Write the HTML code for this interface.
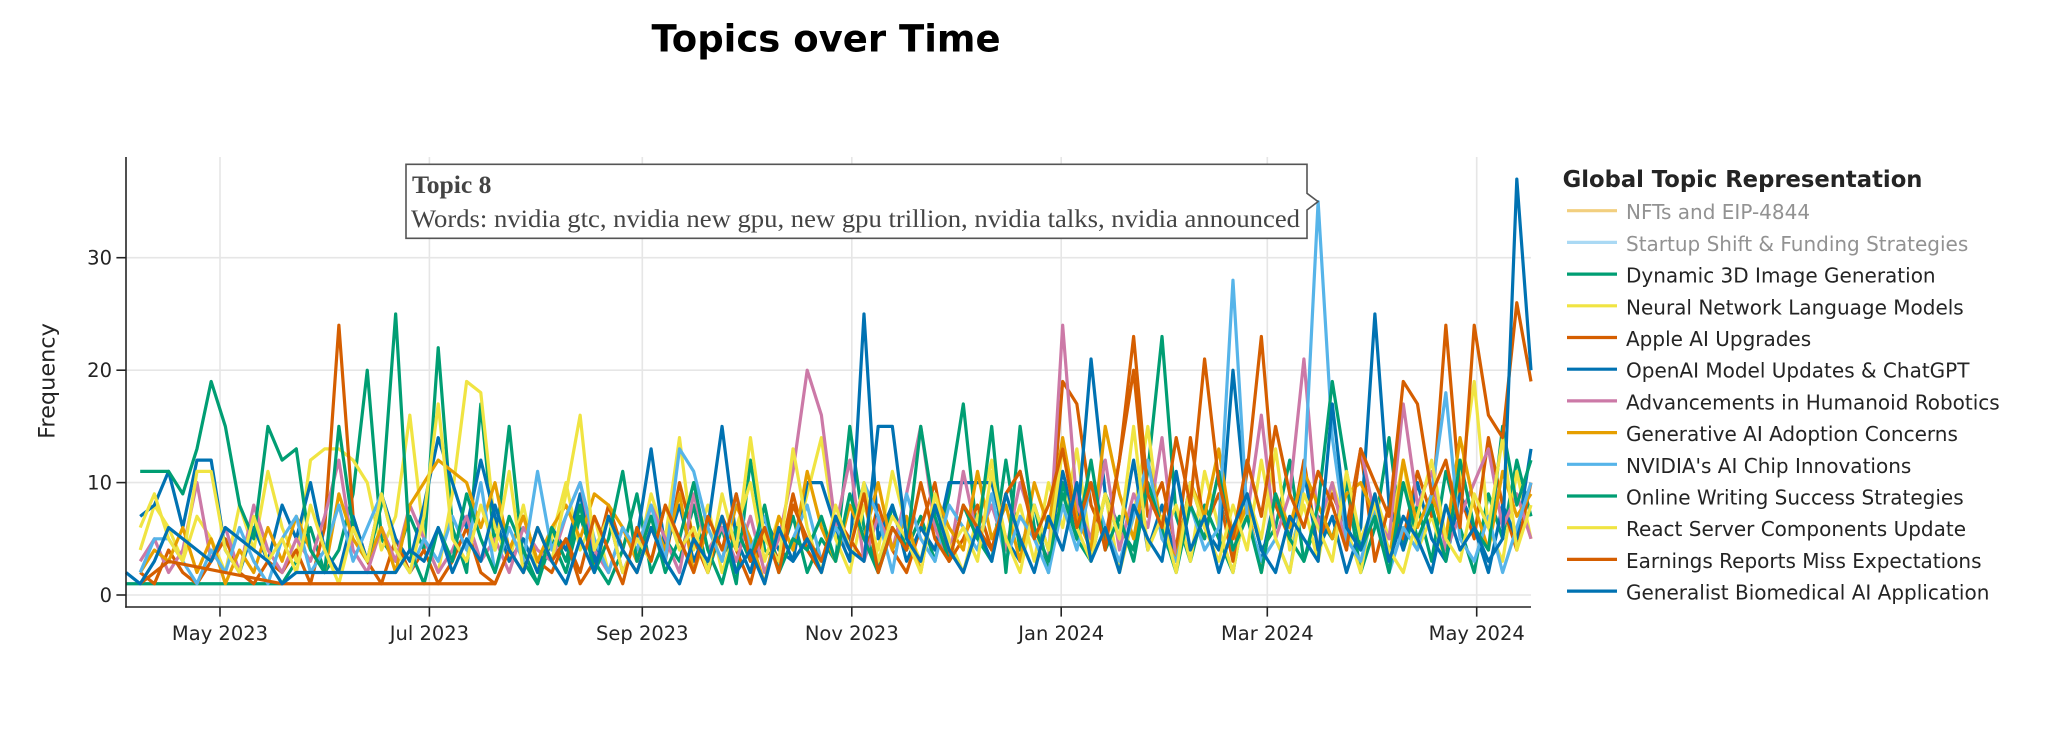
<!DOCTYPE html>
<html><head><meta charset="utf-8">
<style>
html,body{margin:0;padding:0;background:#fff;}
svg{display:block;}
</style></head>
<body>
<svg id="c" width="2045" height="732" viewBox="0 0 2045 732" xmlns="http://www.w3.org/2000/svg" font-family="'DejaVu Sans', Verdana, sans-serif">
<rect width="2045" height="732" fill="#fff"/>
<g stroke="#e6e6e6" stroke-width="1.6">
<line x1="220" y1="157" x2="220" y2="607"/>
<line x1="429.4" y1="157" x2="429.4" y2="607"/>
<line x1="642.3" y1="157" x2="642.3" y2="607"/>
<line x1="851.8" y1="157" x2="851.8" y2="607"/>
<line x1="1061.2" y1="157" x2="1061.2" y2="607"/>
<line x1="1267.3" y1="157" x2="1267.3" y2="607"/>
<line x1="1476.7" y1="157" x2="1476.7" y2="607"/>
<line x1="126" y1="595" x2="1531" y2="595"/>
<line x1="126" y1="482.6" x2="1531" y2="482.6"/>
<line x1="126" y1="370.2" x2="1531" y2="370.2"/>
<line x1="126" y1="257.7" x2="1531" y2="257.7"/>
</g>
<g transform="translate(126,595) scale(14.1919,-11.24)" fill="none" stroke-width="3.2" stroke-linejoin="round">
<polyline vector-effect="non-scaling-stroke" stroke="#009E73" points="0,1 1,1 2,1 3,1 4,1 5,1 6,1 7,1 8,1 9,1 10,1 11,1 12,3 13,6 14,2 15,4 16,9 17,20 18,5 19,3 20,7 21,4 22,22 23,6 24,2 25,17 26,4 27,15 28,3 29,1 30,5 31,2 32,7 33,3 34,1 35,4 36,9 37,2 38,5 39,3 40,8 41,2 42,6 43,1 44,12 45,4 46,3 47,7 48,2 49,5 50,3 51,15 52,6 53,2 54,8 55,4 56,7 57,3 58,9 59,17 60,5 61,3 62,12 63,4 64,8 65,2 66,10 67,5 68,3 69,9 70,6 71,4 72,11 73,23 74,7 75,3 76,8 77,5 78,2 79,9 80,4 81,6 82,12 83,3 84,7 85,5 86,10 87,2 88,6 89,14 90,4 91,8 92,3 93,11 94,6 95,2 96,9 97,5 98,12 99,7"/>
<polyline vector-effect="non-scaling-stroke" stroke="#F0E442" points="1,4 2,8 3,6 4,3 5,7 6,5 7,2 8,8 9,4 10,11 11,6 12,3 13,12 14,13 15,13 16,12 17,10 18,4 19,7 20,16 21,5 22,2 23,9 24,19 25,18 26,6 27,3 28,8 29,2 30,5 31,10 32,4 33,7 34,2 35,6 36,3 37,9 38,5 39,14 40,4 41,8 42,2 43,6 44,10 45,3 46,7 47,4 48,9 49,14 50,5 51,2 52,8 53,4 54,11 55,6 56,3 57,9 58,5 59,2 60,7 61,12 62,4 63,8 64,3 65,10 66,6 67,13 68,4 69,9 70,2 71,7 72,15 73,5 74,8 75,3 76,11 77,6 78,2 79,9 80,5 81,13 82,4 83,8 84,3 85,10 86,6 87,2 88,9 89,5 90,12 91,4 92,7 93,3 94,10 95,19 96,6 97,3 98,11 99,5"/>
<polyline vector-effect="non-scaling-stroke" stroke="#D55E00" points="1,2 2,1 3,4 4,2 5,1 6,3 7,5 8,2 9,1 10,3 11,2 12,4 13,1 14,6 15,24 16,7 17,3 18,1 19,5 20,2 21,4 22,1 23,3 24,6 25,2 26,1 27,4 28,7 29,3 30,2 31,5 32,1 33,3 34,8 35,4 36,2 37,6 38,3 39,10 40,5 41,2 42,7 43,4 44,1 45,6 46,3 47,9 48,4 49,2 50,7 51,5 52,3 53,8 54,4 55,2 56,6 57,10 58,3 59,5 60,8 61,4 62,9 63,11 64,6 65,3 66,19 67,17 68,8 69,5 70,12 71,20 72,7 73,10 74,4 75,14 76,6 77,9 78,3 79,11 80,23 81,8 82,5 83,12 84,4 85,9 86,6 87,13 88,3 89,8 90,5 91,11 92,7 93,24 94,9 95,5 96,14 97,8 98,4 99,10"/>
<polyline vector-effect="non-scaling-stroke" stroke="#0072B2" points="1,7 2,8 3,11 4,6 5,12 6,12 7,4 8,2 9,6 10,3 11,8 12,5 13,10 14,4 15,2 16,7 17,3 18,9 19,5 20,3 21,8 22,14 23,10 24,6 25,12 26,7 27,3 28,5 29,2 30,6 31,4 32,9 33,3 34,7 35,2 36,5 37,13 38,4 39,8 40,3 41,6 42,15 43,5 44,2 45,7 46,4 47,3 48,10 49,10 50,6 51,3 52,25 53,5 54,8 55,3 56,6 57,4 58,10 59,10 60,10 61,10 62,5 63,3 64,8 65,4 66,11 67,6 68,21 69,9 70,5 71,12 72,4 73,8 74,3 75,10 76,6 77,4 78,20 79,7 80,3 81,9 82,5 83,11 84,4 85,7 86,2 87,6 88,25 89,8 90,4 91,10 92,5 93,3 94,9 95,6 96,2 97,8 98,5 99,13"/>
<polyline vector-effect="non-scaling-stroke" stroke="#CC79A7" points="1,3 2,5 3,2 4,4 5,10 6,3 7,6 8,2 9,8 10,4 11,2 12,5 13,3 14,7 15,12 16,4 17,2 18,6 19,3 20,8 21,5 22,2 23,4 24,7 25,3 26,5 27,2 28,6 29,4 30,3 31,7 32,10 33,4 34,2 35,6 36,3 37,8 38,5 39,2 40,9 41,4 42,6 43,3 44,7 45,2 46,5 47,11 48,20 49,16 50,6 51,12 52,3 53,7 54,4 55,9 56,15 57,6 58,3 59,11 60,5 61,8 62,4 63,10 64,6 65,3 66,24 67,8 68,5 69,12 70,4 71,9 72,6 73,14 74,3 75,8 76,5 77,11 78,4 79,7 80,16 81,5 82,9 83,21 84,6 85,10 86,4 87,13 88,7 89,5 90,17 91,8 92,11 93,4 94,7 95,10 96,13 97,6 98,9 99,5"/>
<polyline vector-effect="non-scaling-stroke" stroke="#E69F00" points="1,2 2,4 3,3 4,6 5,2 6,5 7,1 8,4 9,2 10,6 11,3 12,7 13,4 14,2 15,9 16,5 17,3 18,6 19,2 20,8 21,10 22,12 23,11 24,10 25,6 26,10 27,4 28,7 29,3 30,6 31,8 32,5 33,9 34,8 35,6 36,3 37,7 38,4 39,9 40,2 41,6 42,3 43,8 44,5 45,1 46,7 47,4 48,11 49,6 50,3 51,8 52,5 53,10 54,4 55,7 56,2 57,9 58,6 59,4 60,11 61,5 62,8 63,3 64,10 65,6 66,14 67,7 68,4 69,15 70,9 71,5 72,12 73,6 74,3 75,10 76,7 77,13 78,5 79,8 80,2 81,9 82,6 83,11 84,8 85,5 86,9 87,10 88,7 89,3 90,12 91,6 92,9 93,5 94,14 95,8 96,4 97,11 98,7 99,9"/>
<polyline vector-effect="non-scaling-stroke" stroke="#56B4E9" points="1,2 2,5 3,5 4,3 5,1 6,4 7,2 8,6 9,3 10,1 11,5 12,7 13,2 14,4 15,8 16,3 17,6 18,9 19,4 20,2 21,5 22,3 23,7 24,4 25,10 26,2 27,6 28,3 29,11 30,4 31,7 32,10 33,5 34,2 35,6 36,4 37,8 38,3 39,13 40,11 41,6 42,3 43,9 44,4 45,7 46,2 47,5 48,8 49,3 50,6 51,4 52,10 53,7 54,2 55,9 56,5 57,3 58,8 59,6 60,4 61,9 62,3 63,7 64,5 65,2 66,8 67,4 68,10 69,6 70,3 71,7 72,12 73,5 74,3 75,8 76,4 77,6 78,28 79,7 80,3 81,5 82,2 83,10 84,35 85,14 86,5 87,3 88,8 89,2 90,6 91,4 92,9 93,18 94,5 95,3 96,7 97,2 98,6 99,10"/>
<polyline vector-effect="non-scaling-stroke" stroke="#009E73" points="1,11 2,11 3,11 4,9 5,13 6,19 7,15 8,8 9,5 10,15 11,12 12,13 13,4 14,2 15,15 16,6 17,3 18,8 19,25 20,4 21,1 22,6 23,3 24,9 25,5 26,2 27,7 28,4 29,1 30,6 31,3 32,8 33,2 34,5 35,11 36,3 37,7 38,2 39,5 40,10 41,4 42,1 43,6 44,3 45,8 46,2 47,5 48,4 49,7 50,3 51,9 52,5 53,2 54,6 55,4 56,15 57,7 58,3 59,8 60,5 61,15 62,2 63,15 64,6 65,3 66,9 67,5 68,12 69,4 70,7 71,3 72,10 73,6 74,2 75,8 76,5 77,11 78,4 79,7 80,2 81,9 82,5 83,3 84,8 85,19 86,11 87,4 88,7 89,2 90,10 91,5 92,8 93,3 94,12 95,6 96,4 97,15 98,8 99,12"/>
<polyline vector-effect="non-scaling-stroke" stroke="#F0E442" points="1,6 2,9 3,5 4,3 5,11 6,11 7,4 8,2 9,7 10,3 11,5 12,2 13,8 14,4 15,1 16,6 17,3 18,9 19,4 20,2 21,7 22,17 23,5 24,3 25,8 26,4 27,11 28,2 29,6 30,3 31,9 32,16 33,4 34,7 35,2 36,5 37,3 38,8 39,4 40,6 41,2 42,9 43,4 44,14 45,5 46,3 47,13 48,6 49,2 50,8 51,4 52,10 53,3 54,7 55,5 56,2 57,9 58,4 59,6 60,3 61,11 62,5 63,2 64,8 65,4 66,13 67,6 68,3 69,9 70,5 71,15 72,4 73,7 74,2 75,10 76,6 77,3 78,8 79,4 80,12 81,5 82,2 83,9 84,6 85,3 86,11 87,5 88,8 89,4 90,2 91,7 92,12 93,5 94,3 95,9 96,6 97,14 98,4 99,8"/>
<polyline vector-effect="non-scaling-stroke" stroke="#D55E00" points="1,1 2,2 3,3 11,1 12,1 13,1 14,1 15,1 16,1 17,1 18,1 19,1 20,1 21,1 22,1 23,1 24,1 25,1 26,1 27,4 28,2 29,6 30,3 31,5 32,2 33,7 34,4 35,1 36,6 37,3 38,8 39,5 40,2 41,7 42,4 43,9 44,3 45,6 46,2 47,8 48,5 49,3 50,7 51,4 52,9 53,2 54,6 55,4 56,10 57,5 58,3 59,8 60,6 61,4 62,9 63,11 64,5 65,8 66,13 67,6 68,10 69,4 70,12 71,23 72,9 73,6 74,14 75,8 76,21 77,10 78,5 79,12 80,7 81,15 82,9 83,6 84,11 85,8 86,4 87,13 88,10 89,7 90,19 91,17 92,9 93,12 94,6 95,24 96,16 97,14 98,26 99,19"/>
<polyline vector-effect="non-scaling-stroke" stroke="#0072B2" points="0,2 1,1 2,3 3,6 4,5 5,4 6,3 7,6 8,5 9,4 10,3 11,1 12,2 13,2 14,2 15,2 16,2 17,2 18,2 19,2 20,4 21,3 22,6 23,2 24,5 25,3 26,8 27,4 28,2 29,6 30,3 31,1 32,5 33,2 34,7 35,4 36,2 37,6 38,3 39,1 40,5 41,3 42,7 43,2 44,4 45,1 46,6 47,3 48,5 49,2 50,7 51,4 52,3 53,15 54,15 55,5 56,3 57,8 58,4 59,2 60,6 61,3 62,9 63,5 64,2 65,7 66,4 67,10 68,3 69,6 70,2 71,8 72,5 73,3 74,11 75,4 76,7 77,2 78,6 79,9 80,4 81,2 82,7 83,5 84,3 85,17 86,6 87,4 88,9 89,3 90,7 91,5 92,2 93,8 94,4 95,6 96,3 97,5 98,37 99,20"/>
</g>
<g stroke="#242424" stroke-width="1.6">
<line x1="126" y1="157" x2="126" y2="607.8"/>
<line x1="125.2" y1="607" x2="1531" y2="607"/>
<line x1="116.4" y1="595" x2="126" y2="595"/>
<line x1="116.4" y1="482.6" x2="126" y2="482.6"/>
<line x1="116.4" y1="370.2" x2="126" y2="370.2"/>
<line x1="116.4" y1="257.7" x2="126" y2="257.7"/>
<line x1="220" y1="607" x2="220" y2="616.6"/>
<line x1="429.4" y1="607" x2="429.4" y2="616.6"/>
<line x1="642.3" y1="607" x2="642.3" y2="616.6"/>
<line x1="851.8" y1="607" x2="851.8" y2="616.6"/>
<line x1="1061.2" y1="607" x2="1061.2" y2="616.6"/>
<line x1="1267.3" y1="607" x2="1267.3" y2="616.6"/>
<line x1="1476.7" y1="607" x2="1476.7" y2="616.6"/>
</g>
<g fill="#242424" font-size="19.5">
<text x="112" y="602" text-anchor="end">0</text>
<text x="112" y="489.6" text-anchor="end">10</text>
<text x="112" y="377.2" text-anchor="end">20</text>
<text x="112" y="264.7" text-anchor="end">30</text>
<g text-anchor="middle">
<text x="220" y="640">May 2023</text>
<text x="429.4" y="640">Jul 2023</text>
<text x="642.3" y="640">Sep 2023</text>
<text x="851.8" y="640">Nov 2023</text>
<text x="1061.2" y="640">Jan 2024</text>
<text x="1267.3" y="640">Mar 2024</text>
<text x="1476.7" y="640">May 2024</text>
</g>
<text transform="translate(54.5,381) rotate(-90)" text-anchor="middle" font-size="22.4">Frequency</text>
</g>
<text x="826" y="51.7" text-anchor="middle" font-size="37" font-weight="bold" fill="#000">Topics over Time</text>
<g>
<text x="1562.6" y="187" font-size="22.7" font-weight="bold" fill="#242424">Global Topic Representation</text>
<g stroke-width="3.2">
<line x1="1567" x2="1617" y1="210.7" y2="210.7" stroke="#E69F00" stroke-opacity="0.5"/>
<line x1="1567" x2="1617" y1="242.4" y2="242.4" stroke="#56B4E9" stroke-opacity="0.5"/>
<line x1="1567" x2="1617" y1="274.1" y2="274.1" stroke="#009E73"/>
<line x1="1567" x2="1617" y1="305.8" y2="305.8" stroke="#F0E442"/>
<line x1="1567" x2="1617" y1="337.5" y2="337.5" stroke="#D55E00"/>
<line x1="1567" x2="1617" y1="369.2" y2="369.2" stroke="#0072B2"/>
<line x1="1567" x2="1617" y1="400.9" y2="400.9" stroke="#CC79A7"/>
<line x1="1567" x2="1617" y1="432.6" y2="432.6" stroke="#E69F00"/>
<line x1="1567" x2="1617" y1="464.3" y2="464.3" stroke="#56B4E9"/>
<line x1="1567" x2="1617" y1="496" y2="496" stroke="#009E73"/>
<line x1="1567" x2="1617" y1="527.7" y2="527.7" stroke="#F0E442"/>
<line x1="1567" x2="1617" y1="559.4" y2="559.4" stroke="#D55E00"/>
<line x1="1567" x2="1617" y1="591.1" y2="591.1" stroke="#0072B2"/>
</g>
<g font-size="20" fill="#242424">
<text x="1626" y="219.2" fill="#929292">NFTs and EIP-4844</text>
<text x="1626" y="250.9" fill="#929292">Startup Shift &amp; Funding Strategies</text>
<text x="1626" y="282.6">Dynamic 3D Image Generation</text>
<text x="1626" y="314.3">Neural Network Language Models</text>
<text x="1626" y="346">Apple AI Upgrades</text>
<text x="1626" y="377.7">OpenAI Model Updates &amp; ChatGPT</text>
<text x="1626" y="409.4">Advancements in Humanoid Robotics</text>
<text x="1626" y="441.1">Generative AI Adoption Concerns</text>
<text x="1626" y="472.8">NVIDIA's AI Chip Innovations</text>
<text x="1626" y="504.5">Online Writing Success Strategies</text>
<text x="1626" y="536.2">React Server Components Update</text>
<text x="1626" y="567.9">Earnings Reports Miss Expectations</text>
<text x="1626" y="599.6">Generalist Biomedical AI Application</text>
</g>
</g>
<g>
<path d="M406,164.3 L1307,164.3 L1307,193.3 L1318,201.6 L1307,210 L1307,238.3 L406,238.3 Z" fill="#fff" stroke="#555" stroke-width="1.6"/>
<g font-family="'Liberation Serif','Times New Roman',serif" fill="#444">
<text x="412" y="193" font-size="25.6" font-weight="bold">Topic 8</text>
<text x="411" y="227" font-size="25.6" textLength="889" lengthAdjust="spacingAndGlyphs">Words: nvidia gtc, nvidia new gpu, new gpu trillion, nvidia talks, nvidia announced</text>
</g>
</g>
</svg>
</body></html>
